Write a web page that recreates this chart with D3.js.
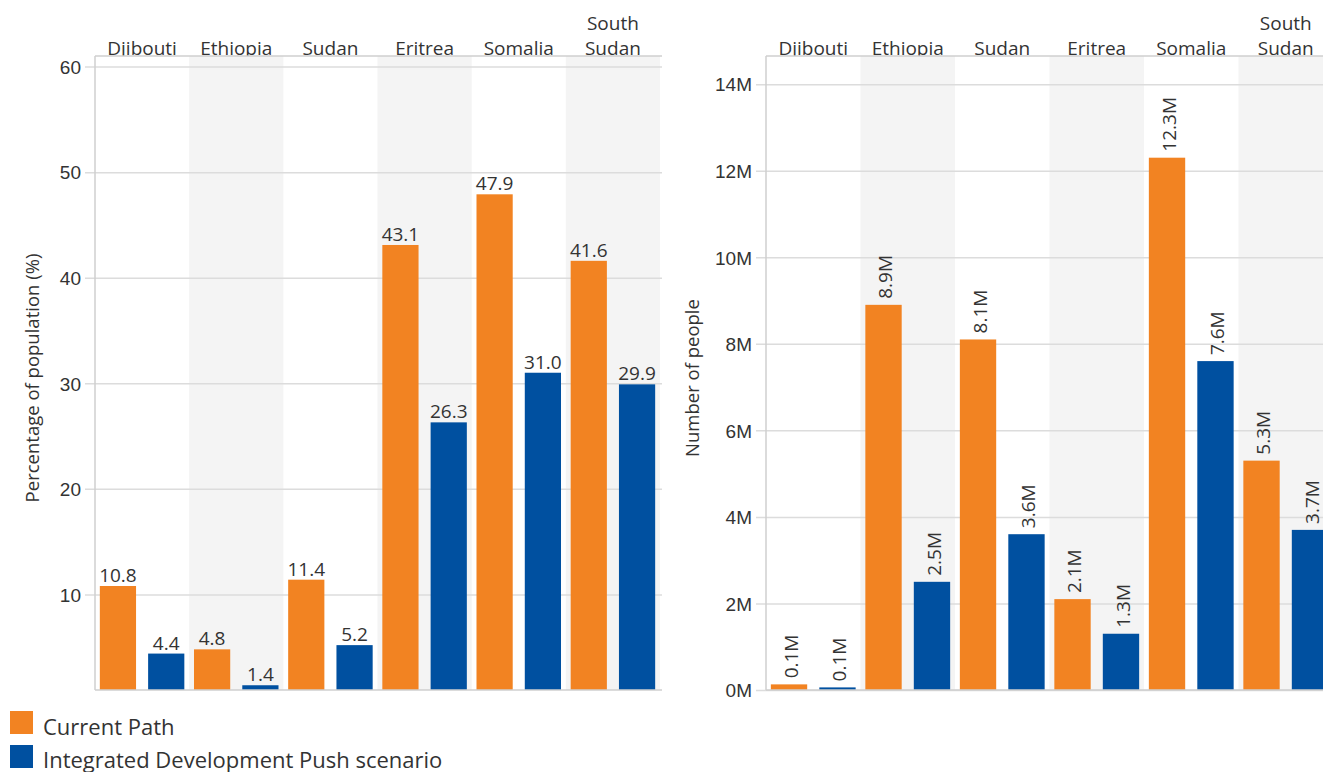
<!DOCTYPE html>
<html>
<head>
<meta charset="utf-8">
<script src="https://cdn.jsdelivr.net/npm/d3@7"></script>
<style>
  html, body { margin: 0; padding: 0; background: #fff; }
  svg { display: block; font-family: "Open Sans", sans-serif; }
</style>
</head>
<body>
<svg id="chart" width="1323" height="772"></svg>
<script>
// ---- data ----
const categories = ["Djibouti", "Ethiopia", "Sudan", "Eritrea", "Somalia", "South Sudan"];
const seriesNames = ["Current Path", "Integrated Development Push scenario"];
const pctCurrent = [10.8, 4.8, 11.4, 43.1, 47.9, 41.6];
const pctIDP = [4.4, 1.4, 5.2, 26.3, 31.0, 29.9];
const peopleCurrent = [0.13, 8.9, 8.1, 2.1, 12.3, 5.3];
const peopleIDP = [0.06, 2.5, 3.6, 1.3, 7.6, 3.7];
const pctTicks = [10, 20, 30, 40, 50, 60];
const peopleTicks = [0, 2, 4, 6, 8, 10, 12, 14];

const colors = ["#f28322", "#0050a0"];
const svg = d3.select("#chart");

function drawPanel(cfg) {
  const { left, right, top, bottom, domain, ticks, tickFmt, values, labelFmt, rotated, title, titleX } = cfg;
  const g = svg.append("g");
  const x0 = d3.scaleBand().domain(categories).range([left, right]).padding(0);
  const x1 = d3.scaleBand().domain(seriesNames).range([0, x0.bandwidth()]).paddingInner(0.25).paddingOuter(0.1);
  const y = d3.scaleLinear().domain(domain).range([bottom, top]);

  // category labels (drawn first, plot background overlaps descenders)
  categories.forEach(c => {
    const words = c.split(" ");
    const t = g.append("text")
      .attr("text-anchor", "middle")
      .attr("font-size", 19)
      .attr("fill", "#333");
    words.forEach((w, i) => {
      t.append("tspan").attr("x", x0(c) + x0.bandwidth() / 2)
        .attr("y", top - 1 - (words.length - 1 - i) * 25)
        .text(w);
    });
  });

  // plot background
  g.append("rect").attr("x", left).attr("y", top).attr("width", right - left).attr("height", bottom - top).attr("fill", "#fff");
  // alternating bands
  g.selectAll("rect.band").data(categories.filter((c, i) => i % 2 === 1)).enter()
    .append("rect").attr("class", "band")
    .attr("x", d => x0(d)).attr("y", top)
    .attr("width", x0.bandwidth()).attr("height", bottom - top)
    .attr("fill", "#f4f4f4");

  // gridlines + ticks
  const yAxis = d3.axisLeft(y).tickValues(ticks).tickFormat(tickFmt).tickSize(0).tickPadding(6);
  const ga = g.append("g").attr("transform", `translate(${left - 10},0)`).call(yAxis);
  ga.select(".domain").remove();
  ga.selectAll(".tick line").attr("stroke", "#dcdcdc").attr("stroke-width", 1.5)
    .attr("x1", 0).attr("x2", right - left + 12);
  ga.selectAll(".tick text").attr("font-size", 19).attr("fill", "#333").attr("x", -4).attr("dy", "0.36em");

  // frame
  g.append("line").attr("x1", left).attr("x2", right + 2).attr("y1", top).attr("y2", top).attr("stroke", "#cfcfcf").attr("stroke-width", 1.5);
  g.append("line").attr("x1", left).attr("x2", left).attr("y1", top).attr("y2", bottom).attr("stroke", "#cfcfcf").attr("stroke-width", 1.5);

  // bars
  const rows = categories.map((c, i) => ({ c, vals: [values[0][i], values[1][i]] }));
  rows.forEach(r => {
    r.vals.forEach((v, si) => {
      const bx = x0(r.c) + x1(seriesNames[si]);
      g.append("rect")
        .attr("x", bx).attr("y", y(v))
        .attr("width", x1.bandwidth()).attr("height", bottom - y(v))
        .attr("fill", colors[si]);
      const cx = bx + x1.bandwidth() / 2;
      if (rotated) {
        g.append("text")
          .attr("transform", `translate(${cx + 2},${y(v) - 6}) rotate(-90)`)
          .attr("text-anchor", "start")
          .attr("dy", "0.35em")
          .attr("font-size", 19).attr("fill", "#333")
          .text(labelFmt(v));
      } else {
        g.append("text")
          .attr("x", cx).attr("y", y(v) - 4)
          .attr("text-anchor", "middle")
          .attr("font-size", 19).attr("fill", "#333")
          .text(labelFmt(v));
      }
    });
  });

  // bottom axis line
  g.append("line").attr("x1", left).attr("x2", right + 2).attr("y1", bottom).attr("y2", bottom).attr("stroke", "#cfcfcf").attr("stroke-width", 1.5);

  // axis title
  g.append("text")
    .attr("transform", `translate(${titleX},${(top + bottom) / 2 + 5}) rotate(-90)`)
    .attr("text-anchor", "middle")
    .attr("font-size", 18.5).attr("fill", "#333")
    .text(title);
}

drawPanel({
  left: 95, right: 660, top: 56, bottom: 690,
  domain: [0.95, 61.0], ticks: pctTicks, tickFmt: d3.format("d"),
  values: [pctCurrent, pctIDP], labelFmt: d3.format(".1f"), rotated: false,
  title: "Percentage of population (%)", titleX: 39
});

drawPanel({
  left: 766, right: 1333, top: 56, bottom: 690,
  domain: [0, 14.65], ticks: peopleTicks, tickFmt: d => d + "M",
  values: [peopleCurrent, peopleIDP], labelFmt: v => d3.format(".1f")(v) + "M", rotated: true,
  title: "Number of people", titleX: 699
});

// legend
const legend = svg.append("g");
seriesNames.forEach((s, i) => {
  legend.append("rect").attr("x", 10).attr("y", 711 + i * 34).attr("width", 23).attr("height", 23).attr("fill", colors[i]);
  legend.append("text").attr("x", 43).attr("y", 735 + i * 33).attr("font-size", 22).attr("fill", "#333").text(s);
});
</script>
</body>
</html>
